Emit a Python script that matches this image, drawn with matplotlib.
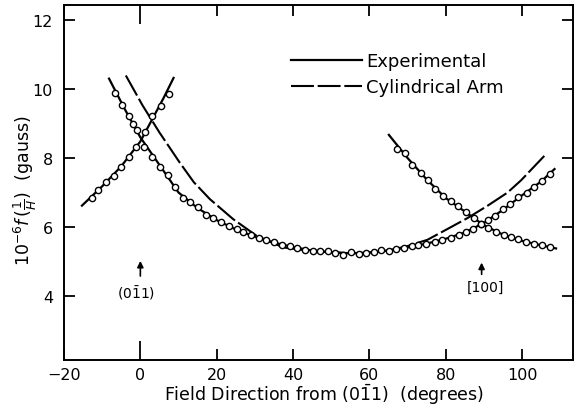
import matplotlib
matplotlib.use("Agg")
import matplotlib.pyplot as plt

# fitted line for the rising branch near (0-11)
a_line_x = [-15.3, -10, -5, 0, 3, 6, 8.7]
a_line_y = [6.62, 7.18, 7.76, 8.48, 9.10, 9.72, 10.32]
a_pts_x = [-12.7, -11.0, -8.9, -7.0, -5.1, -2.9, -1.1, 1.2, 3.1, 5.4, 7.4]
a_pts_y = [6.83, 7.07, 7.31, 7.49, 7.75, 8.02, 8.31, 8.74, 9.23, 9.52, 9.86]

# main branch through the minimum
b_line_x = [-8.2, -4, 0, 5, 10, 15, 20, 25, 30, 35, 40, 45, 50, 55, 60, 65,
            70, 75, 80, 85, 90, 95, 100, 105, 108.5]
b_line_y = [10.3, 9.4, 8.6, 7.8, 7.0, 6.55, 6.2, 5.93, 5.72, 5.55, 5.42, 5.32,
            5.27, 5.24, 5.26, 5.32, 5.41, 5.52, 5.66, 5.84, 6.12, 6.5, 6.92,
            7.32, 7.68]
b_pts_x = [-6.6, -4.8, -3.1, -1.8, -0.9, 1.05, 3.1, 5.2, 7.2, 9.2, 11.1, 13.1,
           15.2, 17.1, 19.1, 21.2, 23.2, 25.2, 27.0, 29.0, 31.1, 32.9, 35.0,
           37.2, 39.2, 41.1, 43.2, 45.1, 47.1, 49.1, 51.1, 53.0, 55.2, 57.2,
           59.1, 61.1, 63.1, 65.1, 67.1, 69.0, 71.1, 72.8, 74.9, 77.2, 79.1,
           81.3, 83.5, 85.4, 87.2, 89.2, 91.1, 92.9, 94.9, 96.9, 99.0, 101.2,
           103.1, 105.2, 107.2]
b_pts_y = [9.87, 9.55, 9.21, 8.99, 8.80, 8.33, 8.02, 7.75, 7.51, 7.17, 6.83,
           6.72, 6.57, 6.36, 6.25, 6.15, 6.02, 5.94, 5.85, 5.77, 5.69, 5.62,
           5.57, 5.48, 5.46, 5.39, 5.34, 5.32, 5.32, 5.30, 5.25, 5.20, 5.27,
           5.22, 5.25, 5.27, 5.34, 5.32, 5.37, 5.38, 5.44, 5.47, 5.51, 5.56,
           5.62, 5.67, 5.77, 5.85, 5.94, 6.09, 6.20, 6.33, 6.52, 6.67, 6.86,
           7.00, 7.15, 7.33, 7.54]

# falling branch near [100]
c_line_x = [65.1, 70, 75, 80, 85, 90, 95, 100, 105, 108.9]
c_line_y = [8.67, 8.0, 7.38, 6.84, 6.45, 6.05, 5.78, 5.6, 5.47, 5.38]
c_pts_x = [67.3, 69.2, 71.2, 73.4, 75.3, 77.2, 79.4, 81.3, 83.3, 85.3, 87.3,
           89.2, 91.1, 93.2, 95.2, 97.1, 99.0, 101.0, 103.1, 105.2, 107.4]
c_pts_y = [8.26, 8.14, 7.81, 7.57, 7.35, 7.10, 6.89, 6.74, 6.61, 6.43, 6.26,
           6.09, 5.97, 5.87, 5.78, 5.70, 5.65, 5.56, 5.51, 5.48, 5.41]

# cylindrical arm model
cyl_x = [-3.8, 0.6, 5.0, 10.3, 14.0, 18.2, 24.3, 30.4, 37.4, 45, 50, 55, 60,
         65, 70, 75.2, 80.4, 85.7, 91, 96.2, 99.7, 105.9]
cyl_y = [10.39, 9.52, 8.74, 7.87, 7.30, 6.81, 6.23, 5.75, 5.41, 5.3, 5.27,
         5.24, 5.26, 5.32, 5.45, 5.63, 5.94, 6.26, 6.62, 7.0, 7.35, 8.07]

x_ticks = [-20, 0, 20, 40, 60, 80, 100]
y_ticks = [4, 6, 8, 10, 12]

plt.rcParams['font.family'] = ['DejaVu Sans']
plt.rcParams['mathtext.fontset'] = 'dejavusans'

fig = plt.figure(figsize=(5.74, 4.06), dpi=100)
ax = fig.add_axes([0.1115, 0.111, 0.8865, 0.874])

mk = dict(marker='o', markersize=4.5, markerfacecolor='white',
          markeredgecolor='black', markeredgewidth=1.0, linestyle='none')

ax.plot(cyl_x, cyl_y, color='black', lw=1.5, dashes=[11, 1.8],
        label='Cylindrical Arm', zorder=2)
ax.plot(a_line_x, a_line_y, color='black', lw=1.6, zorder=3)
ax.plot(b_line_x, b_line_y, color='black', lw=1.6, zorder=3,
        label='Experimental')
ax.plot(c_line_x, c_line_y, color='black', lw=1.6, zorder=3)
ax.plot(a_pts_x, a_pts_y, zorder=4, **mk)
ax.plot(b_pts_x, b_pts_y, zorder=4, **mk)
ax.plot(c_pts_x, c_pts_y, zorder=4, **mk)

handles, labels = ax.get_legend_handles_labels()
ax.legend(handles[::-1], labels[::-1], loc='center left',
          bbox_to_anchor=(0.447, 0.806), frameon=False, fontsize=13,
          handlelength=3.9, handletextpad=0.25, labelspacing=0.45,
          borderpad=0, borderaxespad=0)

# orientation markers
ax.annotate('', xy=(0, 5.1), xytext=(0, 4.5),
            arrowprops=dict(arrowstyle='-|>', color='black', lw=1.2,
                            mutation_scale=9))
ax.text(-1.0, 4.12, r'(0$\bar{1}$1)', ha='center', va='center', fontsize=10)
ax.annotate('', xy=(89.4, 5.05), xytext=(89.4, 4.55),
            arrowprops=dict(arrowstyle='-|>', color='black', lw=1.2,
                            mutation_scale=9))
ax.text(90.5, 4.26, '[100]', ha='center', va='center', fontsize=10)

ax.set_xlim(-20, 113.3)
ax.set_ylim(2.15, 12.43)
ax.set_xticks(x_ticks)
ax.set_yticks(y_ticks)
ax.set_xticklabels(['\u221220', '0', '20', '40', '60', '80', '100'])
ax.tick_params(direction='in', top=True, right=True, length=8, width=1.3,
               labelsize=11.5)
ax.tick_params(axis='x', pad=5)
ax.tick_params(axis='y', pad=8)

# the 0 degree tick is drawn longer
t0 = ax.xaxis.get_major_ticks()[1]
t0.tick1line.set_markersize(14)
t0.tick2line.set_markersize(14)

for s in ax.spines.values():
    s.set_linewidth(1.4)

ax.set_xlabel(r'Field Direction from (0$\bar{1}$1)  (degrees)', fontsize=12.5)
ax.xaxis.set_label_coords(0.51, -0.062)
ax.set_ylabel(r'$10^{-6}f\,(\frac{1}{H})$  (gauss)', fontsize=12.5)
ax.yaxis.set_label_coords(-0.05, 0.48)

fig.savefig('out.png', dpi=100)
